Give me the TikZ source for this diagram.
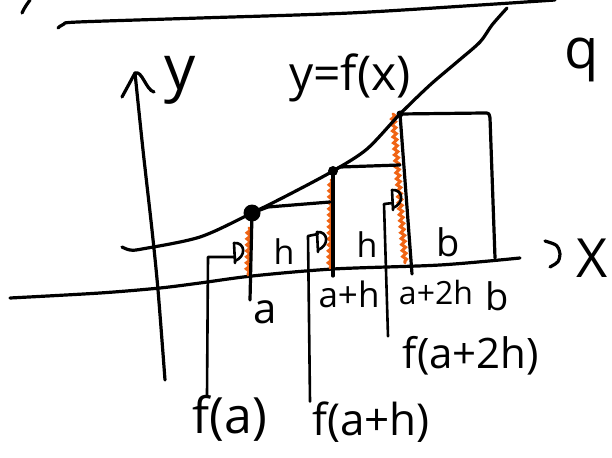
\documentclass[tikz,border=0pt]{standalone}
\usepackage{fontspec}
\setmainfont{Open Sans}
\usetikzlibrary{decorations.pathmorphing}
\definecolor{hlorange}{RGB}{240,100,20}
\begin{document}
\begin{tikzpicture}[x=1pt,y=-1pt,
  ink/.style={line width=3.2pt, line cap=round, line join=round, black},
  thinink/.style={line width=2.6pt, line cap=round, line join=round, black},
  orng/.style={hlorange, line width=3pt, line cap=round, decorate,
    decoration={snake, amplitude=1.8pt, segment length=6pt}},
  dotnode/.style={circle, fill=black, inner sep=0pt},
  lbl/.style={inner sep=0pt, text=black},
  dmark/.pic={
    \draw[thinink] (0,0) -- (1,20);
    \draw[thinink] (0,0) .. controls (11,-1) and (13,13) .. (1,18);
  }]
\useasboundingbox (0,0) rectangle (612,457);
\fill[white] (0,0) rectangle (612,457);

% top strokes
\draw[ink] (22,13) .. controls (25,7) .. (30,0);
\draw[ink] plot[smooth] coordinates {(58,28) (64,24) (78,22) (200,18) (350,13) (480,5) (555,0)};

% axes
\draw[ink] plot[smooth] coordinates {(135,73) (143,150) (152,230) (158,290) (165,380)};
\draw[ink] (122,97) .. controls (128,86) .. (135,73) .. controls (142,70) and (146,90) .. (154,92);
\draw[ink] plot[smooth] coordinates {(10,298) (100,293) (160,288) (200,283) (252,276) (333,269) (440,265) (520,258)};
\draw[ink] (545,241) .. controls (558,245) .. (560,254) .. controls (559,262) .. (550,267);

% orange highlights
\draw[orng] (249,228) -- (248,275);
\draw[orng] (331,180) -- (330,268);
\draw[orng] (393,114) -- (405,263);

% dots on the curve
\node[dotnode, minimum size=17pt] (d1) at (252,213) {};
\node[dotnode, minimum size=10pt] (d2) at (333,171) {};
\node[dotnode, minimum size=7pt] (d3) at (400,114) {};

% curve y=f(x)
\draw[ink] plot[smooth] coordinates {(122,247) (130,250) (142,249) (200,237) (252,213) (290,194) (333,171) (367,149) (400,114) (430,85) (457,62) (480,42) (492,25) (507,8)};

% rectangles
\draw[ink] (d1.center) -- (250,300);
\draw[ink] (d1.center) -- (268,207) -- (330,202);
\draw[ink] (d2.center) -- (333,276);
\draw[ink] (d2.center) -- (340,167) -- (400,165);
\draw[ink] (d3.center) -- (412,274);
\draw[ink] (d3.center) -- (484,113) .. controls (489,113) .. (490,118) -- (495,258);

% labels
\node[lbl, font=\fontsize{62}{62}\selectfont] (ylab) at (180,80) {y};
\node[lbl, font=\fontsize{48}{48}\selectfont] (fx) at (350,78) {y=f(x)};
\node[lbl, font=\fontsize{54}{54}\selectfont] (xlab) at (592,258) {X};
\node[lbl, font=\fontsize{56}{56}\selectfont] (qlab) at (582,60) {q};
\node[lbl, font=\fontsize{34}{34}\selectfont] (h1) at (284,252) {h};
\node[lbl, font=\fontsize{34}{34}\selectfont] (h2) at (367,245) {h};
\node[lbl, font=\fontsize{38}{38}\selectfont] (b1) at (448,242) {b};
\node[lbl, font=\fontsize{42}{42}\selectfont] (alab) at (265,312) {a};
\node[lbl, font=\fontsize{35}{35}\selectfont] (ah) at (349,294) {a+h};
\node[lbl, font=\fontsize{32}{32}\selectfont] (a2h) at (436,292) {a+2h};
\node[lbl, font=\fontsize{38}{38}\selectfont] (b2) at (497,296) {b};
\node[lbl, font=\fontsize{42}{42}\selectfont] (fa2h) at (471,356) {f(a+2h)};
\node[lbl, font=\fontsize{50}{50}\selectfont] (fa) at (230,418) {f(a)};
\node[lbl, font=\fontsize{44}{44}\selectfont] (fah) at (371,422) {f(a+h)};

% leader marks
\pic at (234,243) {dmark};
\coordinate (tipA) at (235,257);
\pic at (317,232) {dmark};
\coordinate (tipB) at (318,234);
\pic at (392,190) {dmark};
\coordinate (tipC) at (393,203);

\coordinate (xa) at (207,0);
\coordinate (xb) at (310,0);
\coordinate (xc) at (388,0);
\draw[thinink] (fa.north -| xa) -- (208,257) -- (tipA);
\draw[thinink] (fah.north -| xb) -- (308,236) -- (tipB);
\draw[thinink] (fa2h.north -| xc) -- (384,204) -- (tipC);
\end{tikzpicture}
\end{document}
